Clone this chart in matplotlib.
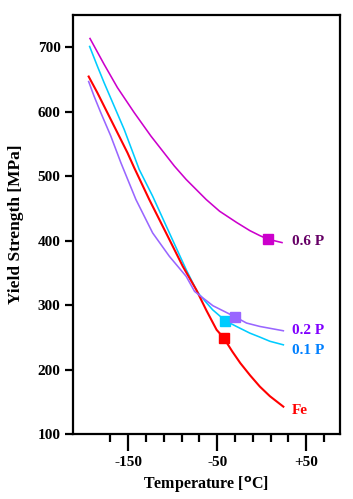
import numpy as np
import matplotlib
matplotlib.use("Agg")
import matplotlib.pyplot as plt

# datos (temperatura en C, limite elastico en MPa)
t_06p = [-192.9, -177.1, -162.1, -143.2, -124.4, -98.0, -84.8, -62.3, -47.2, -28.0, -13.3, -2.0, 7.1, 22.9]
ys_06p = [713.5, 673.6, 637.4, 598.5, 562.1, 515.5, 494.8, 463.7, 445.5, 428.0, 415.5, 407.7, 402.2, 396.9]

t_01p = [-193.3, -184.7, -177.1, -165.8, -154.5, -143.2, -137.6, -122.5, -103.7, -84.8, -73.5, -69.8, -55.1, -40.7, -28.3, -13.3, -2.0, 9.3, 24.4]
ys_01p = [701.1, 670.9, 645.1, 608.8, 572.5, 531.0, 510.3, 468.9, 411.9, 354.9, 323.8, 316.0, 292.7, 275.6, 266.8, 256.5, 250.3, 243.8, 238.3]

t_fe = [-194.4, -184.7, -173.4, -162.1, -150.8, -143.2, -126.3, -107.4, -88.6, -73.5, -62.2, -50.6, -42.7, -33.0, -24.0, -13.0, -2.0, 9.3, 24.4]
ys_fe = [654.5, 629.6, 598.5, 567.4, 536.3, 513.0, 463.7, 411.9, 360.0, 323.8, 292.0, 261.6, 249.2, 228.0, 210.0, 191.0, 173.5, 158.6, 142.4]

t_02p = [-194.4, -188.4, -180.8, -169.5, -158.2, -141.3, -122.5, -103.7, -84.8, -75.4, -54.7, -39.6, -29.4, -17.0, -2.0, 24.4]
ys_02p = [646.7, 624.3, 598.5, 562.1, 520.8, 463.7, 411.9, 375.6, 344.5, 321.2, 298.9, 288.5, 281.4, 272.1, 266.8, 260.1]

# puntos marcados (cuadrados)
mk_t = {'0.6 P': 7.1, '0.2 P': -29.4, '0.1 P': -40.7, 'Fe': -42.7}
mk_ys = {'0.6 P': 402.2, '0.2 P': 281.4, '0.1 P': 275.6, 'Fe': 249.2}

series = [
    ('0.6 P', t_06p, ys_06p, '#CC00CC', '#660066', 398),
    ('0.1 P', t_01p, ys_01p, '#00CCFF', '#0080FF', 229),
    ('Fe', t_fe, ys_fe, '#FF0000', '#FF0000', 137),
    ('0.2 P', t_02p, ys_02p, '#9966FF', '#8000FF', 260),
]

plt.rcParams['font.family'] = ['Liberation Serif', 'DejaVu Serif']

fig = plt.figure(figsize=(3.53, 4.99), dpi=100)
ax = fig.add_axes([0.2068, 0.1303, 0.963 - 0.2068, 0.97 - 0.1303])

for name, t, ys, col, tcol, ylab in series:
    lw = 1.5 if name == 'Fe' else 1.15
    ax.plot(t, ys, color=col, lw=lw, zorder=2)
    ax.plot(mk_t[name], mk_ys[name], marker='s', ms=7.5, color=col, mec=col, zorder=3)
    ax.text(34, ylab, name, color=tcol, fontsize=11, fontweight='bold', va='center', ha='left')

ax.set_xlim(-212, 88)
ax.set_ylim(100, 750)
ax.set_xticks([-150, -50, 50])
ax.set_xticklabels(['-150', '-50', '+50'])
ax.set_xticks([-170, -130, -110, -90, -70, -30, -10, 10, 30, 70], minor=True)
ax.set_yticks([100, 200, 300, 400, 500, 600, 700])

for s in ax.spines.values():
    s.set_linewidth(1.6)
ax.tick_params(axis='x', which='major', direction='out', length=12, width=1.6, pad=4, labelsize=11)
ax.tick_params(axis='x', which='minor', direction='out', length=6, width=1.6)
ax.tick_params(axis='y', direction='out', length=6, width=1.6, pad=3, labelsize=11)
for lab in ax.get_xticklabels() + ax.get_yticklabels():
    lab.set_fontweight('bold')

ax.set_xlabel('Temperature [$^{\\mathbf{o}}$C]', fontsize=11.5, fontweight='bold', labelpad=4)
ax.set_ylabel('Yield Strength [MPa]', fontsize=12.5, fontweight='bold', labelpad=10)

fig.savefig('out.png', dpi=100)
